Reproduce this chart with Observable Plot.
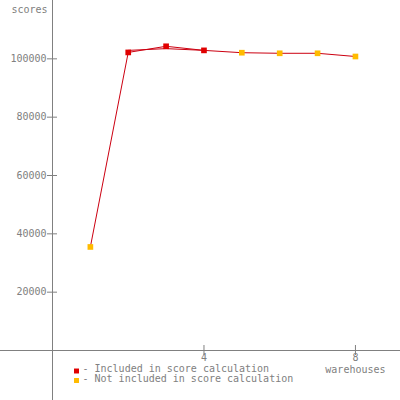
<!DOCTYPE html>
<html>
<head>
<meta charset="utf-8">
<script src="https://cdn.jsdelivr.net/npm/d3@7"></script>
<script src="https://cdn.jsdelivr.net/npm/@observablehq/plot@0.6"></script>
<style>
  html, body { margin: 0; padding: 0; background: #fff; }
</style>
</head>
<body>
<div id="chart"></div>
<script>
const warehouses = [1, 2, 3, 4, 5, 6, 7, 8];
const scores = [35500, 102200, 104300, 102900, 102100, 101900, 101900, 100800];
const included = [false, true, true, true, false, false, false, false];
const altWarehouses = [2, 3, 4];
const altScores = [102900, 103500, 102900];
const xTicks = [4, 8];
const yTicks = [20000, 40000, 60000, 80000, 100000];
const xLabel = "warehouses";
const yLabel = "scores";
const legendLabels = ["- Included in score calculation", "- Not included in score calculation"];

const red = "#e00000";
const lineRed = "#cc0010";
const yellow = "#ffbb00";
const gray = "#808080";
const legendColors = [red, yellow];

const points = warehouses.map((w, i) => ({w, s: scores[i], inc: included[i]}));
const alt = altWarehouses.map((w, i) => ({w, s: altScores[i]}));

const legendMarks = legendLabels.flatMap((label, i) => [
  Plot.dot([label], {frameAnchor: "bottom-left", dx: 24, dy: 20.5 + i * 9.5, symbol: "square", r: 2.8, fill: legendColors[i]}),
  Plot.text([label], {frameAnchor: "bottom-left", dx: 30, dy: 21 + i * 10, text: d => d, textAnchor: "start", fill: gray})
]);

const chart = Plot.plot({
  width: 400,
  height: 400,
  marginLeft: 52,
  marginRight: 0,
  marginTop: 0,
  marginBottom: 50,
  x: {domain: [0, 9.19], axis: null},
  y: {domain: [0, 120000], axis: null},
  style: {fontFamily: "'DejaVu Sans Mono', monospace", fontSize: "10px", color: gray, background: "#fff"},
  marks: [
    Plot.ruleX([0], {stroke: gray, insetBottom: -50}),
    Plot.ruleY([0], {stroke: gray, insetLeft: -52}),
    Plot.ruleX(xTicks, {x: d => d, y1: 0, y2: 0, insetTop: -5, insetBottom: -5, stroke: gray}),
    Plot.ruleY(yTicks, {y: d => d, x1: 0, x2: 0, insetLeft: -5, insetRight: -5, stroke: gray}),
    Plot.axisY(yTicks, {tickSize: 0, tickPadding: 6, tickFormat: d => String(d), label: null, fill: gray}),
    Plot.axisX(xTicks, {tickSize: 0, tickPadding: 3, tickFormat: d => String(d), label: null, fill: gray}),
    Plot.text([xLabel], {x: xTicks[xTicks.length - 1], frameAnchor: "bottom", dy: 22, text: d => d, fill: gray}),
    Plot.text([yLabel], {frameAnchor: "top-left", dx: -5, dy: 5, text: d => d, textAnchor: "end", fill: gray}),
    Plot.line(alt, {x: "w", y: "s", stroke: lineRed, strokeWidth: 1}),
    Plot.line(points, {x: "w", y: "s", stroke: lineRed, strokeWidth: 1}),
    Plot.dot(points, {x: "w", y: "s", symbol: "square", r: 3.2, fill: d => d.inc ? red : yellow}),
    ...legendMarks
  ]
});
document.getElementById("chart").appendChild(chart);
</script>
</body>
</html>
